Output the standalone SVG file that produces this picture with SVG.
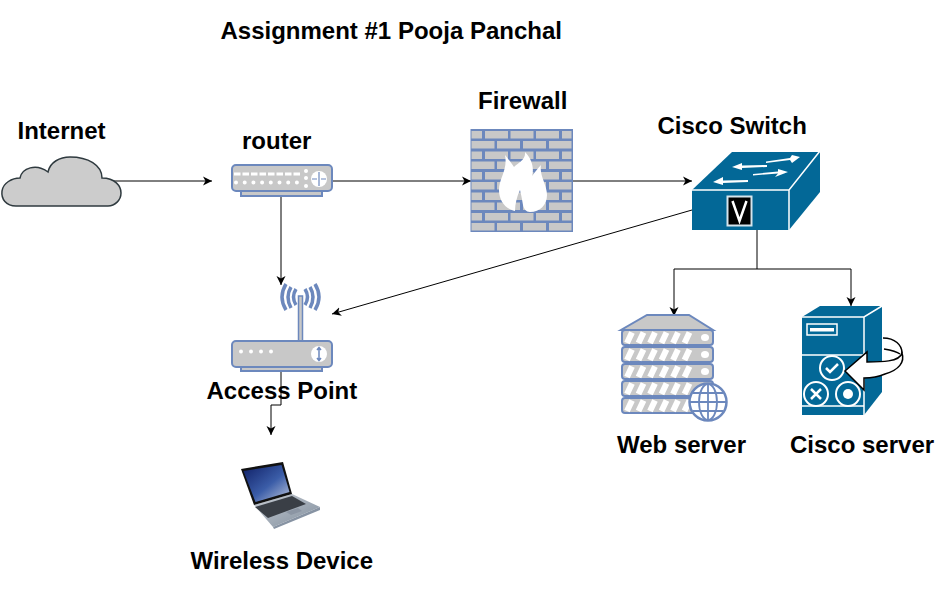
<svg xmlns="http://www.w3.org/2000/svg" width="942" height="591" viewBox="0 0 942 591">
<style>
text{font-family:"Liberation Sans",Arial,sans-serif;font-weight:bold;font-size:24px;fill:#000}
.c{fill:none;stroke:#000;stroke-width:1}
.g{fill:#c8c8c8;stroke:#6c88bd;stroke-width:2}
.b{fill:#6c88bd}
.w{fill:#fff}
.wl{fill:none;stroke:#fff;stroke-width:1.500}
.br{fill:#c8c8c8}
.wv{fill:none;stroke:#6c88bd;stroke-width:3.500}
</style>
<defs>
<marker id="a" markerWidth="10" markerHeight="10" refX="9" refY="4.500" orient="auto" markerUnits="userSpaceOnUse" viewBox="0 0 10 9"><path d="M0 0L9 4.500L0 9L2.500 4.500Z" fill="#000"/></marker>
<g id="r1"><rect x="471.500" y="0" width="10.500" height="7.500" class="br"/><rect x="485" y="0" width="23" height="7.500" class="br"/><rect x="510.500" y="0" width="23" height="7.500" class="br"/><rect x="536" y="0" width="23" height="7.500" class="br"/><rect x="562" y="0" width="9.500" height="7.500" class="br"/></g>
<g id="r2"><rect x="471.500" y="0" width="23" height="7.500" class="br"/><rect x="497" y="0" width="23" height="7.500" class="br"/><rect x="523" y="0" width="23" height="7.500" class="br"/><rect x="549" y="0" width="22.500" height="7.500" class="br"/></g>
<g id="slot"><rect x="1" y="0" width="91" height="15" rx="3" class="g"/><path d="M6 13L11 2.500M17.500 13L22.500 2.500M29 13L34 2.500M40.500 13L45.500 2.500M52 13L57 2.500M63.500 13L68.500 2.500" fill="none" stroke="#fff" stroke-width="6"/></g>
<linearGradient id="sc" x1="0" y1="0" x2="1" y2="1"><stop offset="0" stop-color="#0f1f66"/><stop offset=".55" stop-color="#3b5da8"/><stop offset="1" stop-color="#bcc6dc"/></linearGradient>
<linearGradient id="lb" x1="0" y1="0" x2="1" y2="1"><stop offset="0" stop-color="#c8cdd4"/><stop offset="1" stop-color="#7f8d9c"/></linearGradient>
</defs>

<g id="connectors">
<path class="c" marker-end="url(#a)" d="M105 181H212"/>
<path class="c" marker-end="url(#a)" d="M332 181H471"/>
<path class="c" marker-end="url(#a)" d="M573 181H692"/>
<path class="c" marker-end="url(#a)" d="M281 196V285"/>
<path class="c" marker-end="url(#a)" d="M692 210L332 314"/>
<path class="c" marker-end="url(#a)" d="M757 230V269H674V316"/>
<path class="c" marker-end="url(#a)" d="M757 269H851V306"/>
<path class="c" marker-end="url(#a)" d="M281 371V405H271V435"/>
</g>

<g id="title"><text x="220.500" y="39">Assignment #1 Pooja Panchal</text></g>

<g id="internet">
<path d="M16 206C6 206 1 199 2 191C3 183 12 178 20 178C22 168 36 163 48 172C50 162 60 157 70 157C88 157 102 165 102 178C115 178 121 186 121 193C121 200 115 206 108 206Z" fill="#ccc" stroke="#2f3a3f" stroke-width="1.500"/>
<text x="17.500" y="139">Internet</text>
</g>

<g id="router">
<rect x="241" y="188" width="81" height="8" class="g"/>
<rect x="232" y="165" width="100" height="26" rx="4" class="g"/>
<path d="M234 174H300" fill="none" stroke="#fff" stroke-width="3" stroke-dasharray="6.500 2"/>
<path d="M236 182.500H300" fill="none" stroke="#fff" stroke-width="4" stroke-linecap="round" stroke-dasharray="0 8.700"/>
<circle cx="306" cy="171" r="2" class="w"/><circle cx="306" cy="178" r="2" class="w"/><circle cx="306" cy="186" r="2" class="w"/>
<circle cx="319" cy="179" r="8" class="w"/>
<path d="M319 172V186M312 179H317M321 179H326" stroke="#6c88bd" stroke-width="1.200" fill="none"/>
<text x="242" y="149">router</text>
</g>

<g id="firewall">
<rect x="470.500" y="129" width="102.500" height="103" class="b"/>
<use href="#r1" y="131"/><use href="#r2" y="141"/><use href="#r1" y="151.500"/><use href="#r2" y="161.500"/><use href="#r1" y="172"/><use href="#r2" y="182"/><use href="#r1" y="192.500"/><use href="#r2" y="202.500"/><use href="#r1" y="213"/><use href="#r2" y="223"/>
<path class="w" d="M505 155C509 160 511 163 514 167C518 163 526 160 525 152C533 160 534 170 532 176C535 172 538 168 541 165C539 175 547 185 547 195C547 205 540 212 530 212C526 212 524 209 523 205C522 199 521 194 520 190C517 196 515 204 515 211C505 209 499 200 499 190C499 178 508 170 505 155Z"/>
<text x="478" y="109">Firewall</text>
</g>

<g id="cisco-switch">
<path d="M692 190L732 152H820V192L789 230H692Z" fill="#036897"/>
<path d="M692 190H789L820 151M789 190V230" class="wl"/>
<rect x="727.500" y="196.500" width="24" height="29" fill="#000" stroke="#d5e4ec" stroke-width="2"/>
<path d="M732.500 201L739.500 221L746.500 201" fill="none" stroke="#fff" stroke-width="2.500"/>
<path class="w" d="M766 161.500L790 158L792 155L800 157L792 163L790 160L766 163ZM732 167L742 163L742 165.500L767 165L767 167L742 168L742 170ZM753 174L778 171.500L778 169L788 172L775 177L778 173.500L753 175.500ZM713 182L723 177L723 180.500L748 180L748 182L723 183L723 185Z"/>
<text x="657.500" y="134">Cisco Switch</text>
</g>

<g id="web-server">
<path d="M647 315H689L713 330H621Z" class="g"/>
<use href="#slot" x="621" y="330"/><use href="#slot" x="621" y="347"/><use href="#slot" x="621" y="364"/><use href="#slot" x="621" y="381"/><use href="#slot" x="621" y="398"/>
<ellipse cx="705" cy="337.500" rx="4" ry="3.500" class="w"/><ellipse cx="705" cy="354.500" rx="4" ry="3.500" class="w"/><ellipse cx="705" cy="371.500" rx="4" ry="3.500" class="w"/>
<circle cx="708" cy="402" r="18.500" fill="#fff" stroke="#6c88bd" stroke-width="2.500"/>
<path d="M708 384V420M690 402H726M693 393H723M693 411H723" stroke="#6c88bd" stroke-width="1.800" fill="none"/>
<ellipse cx="708" cy="402" rx="9" ry="18" fill="none" stroke="#6c88bd" stroke-width="1.800"/>
<text x="617" y="453">Web server</text>
</g>

<g id="cisco-server">
<path d="M802 317L820 306H882V392L864 415H802Z" fill="#036897"/>
<path d="M802 317H864L882 306M864 317V415M802 355H864M802 406H864" class="wl"/>
<rect x="807" y="324" width="30" height="11" fill="none" stroke="#fff" stroke-width="1.500"/>
<rect x="810" y="328" width="24" height="3.500" fill="#fff"/>
<circle cx="832" cy="368" r="12" fill="none" stroke="#fff" stroke-width="2"/>
<path d="M826 368L830 372L838 364" fill="none" stroke="#fff" stroke-width="2.500"/>
<circle cx="816" cy="394" r="12" fill="none" stroke="#fff" stroke-width="2"/>
<path d="M811 389L821 399M821 389L811 399" stroke="#fff" stroke-width="2.500" fill="none"/>
<circle cx="848" cy="394" r="12" fill="none" stroke="#fff" stroke-width="2"/>
<circle cx="848" cy="394" r="5" class="w"/>
<path d="M883 338C895 338 902 345 902 353M884 349C890 350 896 351 900 354" fill="none" stroke="#000" stroke-width="1.500"/>
<path d="M845 371L867 352L867 362C880 362 900 362 902 353C905 362 899 370 885 374C878 377 870 378 864 378L864 390Z" fill="#fff" stroke="#000" stroke-width="1.500"/>
<text x="790" y="453">Cisco server</text>
</g>

<g id="access-point">
<rect x="298.500" y="296" width="4" height="46" fill="#c8c8c8" stroke="#6c88bd" stroke-width="1.500"/>
<path class="wv" d="M296 289Q291 297 296 305M291 287Q285 297 291 308M286 284Q278 297 286 310M305 289Q310 297 305 305M310 287Q316 297 310 308M315 284Q323 297 315 310"/>
<rect x="241" y="364" width="81" height="7" class="g"/>
<rect x="232" y="341" width="100" height="26" rx="4" class="g"/>
<circle cx="241" cy="351.500" r="2" class="w"/><circle cx="251" cy="351.500" r="2" class="w"/><circle cx="261" cy="351.500" r="2" class="w"/><circle cx="271" cy="351.500" r="2" class="w"/>
<circle cx="319" cy="354" r="8" class="w"/>
<path d="M319 348V360M317 350L319 347.500L321 350M317 358L319 360.500L321 358" stroke="#6c88bd" stroke-width="1.500" fill="none"/>
<text x="206.500" y="399">Access Point</text>
</g>

<g id="wireless-device">
<path d="M254 505L292 494L320 507L273 527Z" fill="url(#lb)"/>
<path d="M255 507L292 496L306 504L268 518Z" fill="#3a3f46"/>
<path d="M286 512L298 508L302 511L291 515Z" fill="#8b95a3"/>
<path d="M241 469L283 462L292 494L254 505Z" fill="#111"/>
<path d="M243.500 471L281.500 465L289.500 492L255.500 502Z" fill="url(#sc)"/>
<path d="M273 527L320 507L320 510L274 529Z" fill="#8793a3"/>
<text x="190.500" y="569">Wireless Device</text>
</g>
</svg>
